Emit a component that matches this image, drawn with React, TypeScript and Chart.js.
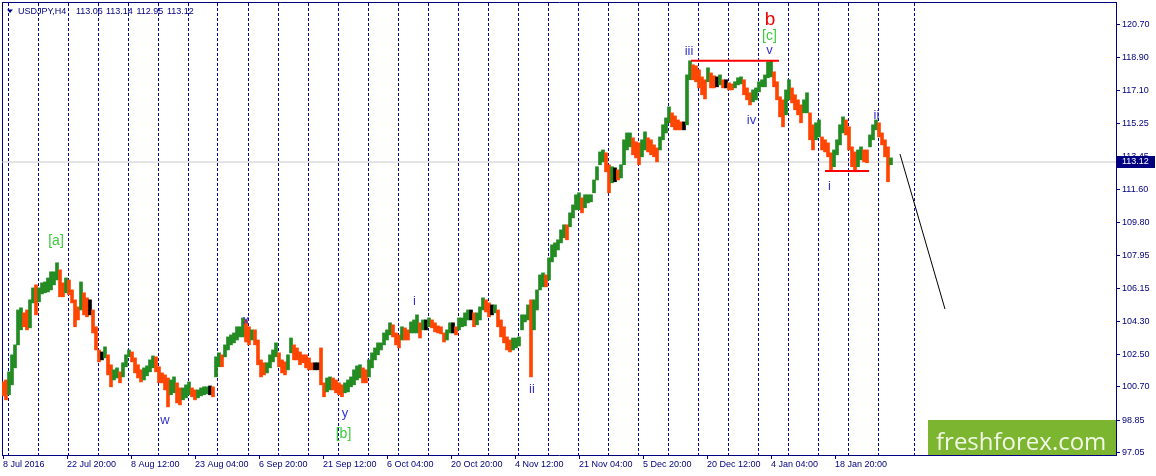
import React, { useEffect, useRef } from "react";
import { Chart, registerables } from "chart.js";

Chart.register(...registerables);

// ---- price bars (each bar = ~3 H4 candles), high / low ----
const highs = [
  100.97, 101.07, 101.52, 102.46, 103.01, 104.94, 105.06, 104.78, 104.94, 105.5,
  106.16, 106.33, 106.16, 106.44, 106.49, 106.71, 107.05, 107.05, 107.55, 107.16,
  106.44, 106.71, 106.6, 106.05, 105.5, 105.11, 106.49, 105.89, 105.61, 105.5,
  104.94, 104.01, 102.73, 102.62, 102.9, 102.46, 101.91, 101.63, 101.74, 101.52,
  102.02, 102.46, 102.73, 102.62, 102.29, 101.91, 101.63, 101.74, 101.85, 102.18,
  102.4, 102.35, 101.8, 101.46, 101.35, 101.18, 101.07, 101.24, 100.91, 100.63,
  100.63, 100.8, 100.96, 100.63, 100.52, 100.52, 100.63, 100.69, 100.69, 100.74,
  100.69, 102.35, 102.57, 102.46, 103.01, 103.45, 103.56, 103.67, 104.01, 104.01,
  104.5, 104.39, 104.01, 103.84, 103.84, 103.28, 102.18, 102.02, 102.02, 102.46,
  102.73, 103.12, 102.57, 102.18, 102.07, 102.46, 103.39, 103.01, 102.84, 102.62,
  102.46, 102.46, 102.29, 102.02, 102.02, 102.02, 102.84, 100.91, 101.18, 101.24,
  101.18, 101.07, 100.91, 100.8, 100.91, 101.07, 101.24, 101.63, 101.85, 101.91,
  101.74, 101.63, 102.18, 102.57, 102.84, 103.12, 103.12, 103.67, 103.84, 104.23,
  104.12, 103.67, 103.56, 104.01, 103.95, 103.84, 104.28, 104.39, 104.67, 104.23,
  104.39, 104.39, 104.5, 104.39, 104.23, 104.06, 104.01, 103.67, 103.84, 104.23,
  104.23, 104.01, 104.5, 104.5, 104.78, 104.94, 104.94, 104.78, 104.78, 105.11,
  105.61, 105.5, 105.33, 105.22, 105.22, 104.94, 104.39, 104.01, 103.45, 103.28,
  103.39, 103.39, 103.45, 104.67, 104.67, 105.22, 105.5, 105.5, 106.05, 106.88,
  106.99, 106.88, 107.82, 108.54, 108.65, 108.82, 109.37, 109.65, 109.65, 110.31,
  110.75, 111.31, 111.42, 111.14, 111.31, 111.31, 111.31, 112.13, 112.86, 113.68,
  113.79, 113.63, 112.97, 112.86, 112.8, 112.69, 112.97, 114.35, 114.73, 114.73,
  114.46, 114.24, 114.18, 114.35, 114.79, 114.46, 114.35, 114.07, 113.9, 114.51,
  115.18, 115.56, 116.17, 115.84, 115.67, 115.45, 115.34, 115.34, 117.94, 118.72,
  118.5, 118.44, 118.22, 117.83, 117.67, 118.33, 118.05, 117.89, 117.83, 117.94,
  117.67, 117.67, 117.5, 117.44, 117.56, 117.78, 117.83, 117.67, 117.22, 116.95,
  117.11, 117.22, 117.56, 117.67, 117.94, 118.66, 118.72, 118.11, 117.56, 116.73,
  116.56, 117.11, 117.67, 117.22, 116.84, 116.56, 116.28, 116.56, 116.95, 115.84,
  115.18, 115.29, 115.45, 114.51, 114.35, 114.18, 113.63, 113.79, 114.35, 115.18,
  115.62, 115.45, 115.07, 113.96, 113.68, 113.79, 113.96, 113.79, 113.79, 114.62,
  115.18, 115.45, 115.29, 114.73, 114.35, 113.96, 113.35,
];
const lows = [
  100.19, 99.97, 100.25, 100.8, 101.74, 103.01, 103.84, 104.01, 103.84, 103.95,
  105.33, 104.67, 105.39, 105.83, 105.89, 105.94, 106.05, 106.33, 106.6, 105.67,
  105.67, 105.89, 105.78, 105.33, 104.01, 104.39, 104.94, 104.67, 104.56, 104.67,
  103.67, 102.73, 102.07, 102.18, 102.29, 101.35, 100.69, 101.07, 101.18, 100.91,
  101.24, 101.8, 102.35, 102.07, 101.46, 101.18, 100.96, 101.07, 101.3, 101.52,
  101.74, 101.52, 100.91, 100.91, 100.52, 99.58, 100.25, 100.36, 99.8, 99.69,
  99.97, 100.08, 100.25, 100.14, 99.97, 100.08, 100.19, 100.25, 100.3, 100.25,
  100.14, 101.24, 101.8, 101.8, 102.35, 102.73, 103.01, 103.12, 103.28, 103.45,
  103.45, 103.17, 103.01, 103.28, 103.01, 101.91, 101.24, 101.35, 101.46, 101.74,
  102.07, 102.35, 101.8, 101.46, 101.35, 101.63, 102.57, 102.18, 102.18, 101.91,
  102.02, 101.74, 101.63, 101.63, 101.63, 101.63, 100.8, 100.14, 100.41, 100.52,
  100.52, 100.36, 100.25, 100.14, 100.36, 100.41, 100.69, 100.8, 101.07, 101.18,
  100.91, 100.91, 101.24, 101.74, 102.18, 102.46, 102.73, 103.01, 103.28, 103.56,
  103.45, 103.01, 102.84, 103.28, 103.28, 103.28, 103.67, 103.67, 103.67, 103.39,
  103.84, 103.84, 104.01, 103.95, 103.73, 103.67, 103.62, 103.17, 103.28, 103.67,
  103.67, 103.56, 103.84, 104.01, 104.06, 104.39, 104.39, 104.01, 104.12, 104.39,
  104.94, 104.83, 104.56, 104.67, 104.78, 104.01, 103.45, 103.12, 102.73, 102.62,
  102.73, 102.84, 102.95, 103.84, 104.28, 104.39, 101.24, 103.84, 104.94, 106.05,
  106.22, 106.22, 106.6, 107.6, 107.88, 108.26, 108.65, 108.93, 108.82, 109.54,
  110.03, 110.48, 110.48, 110.31, 110.59, 110.86, 110.92, 111.42, 112.13, 112.97,
  113.13, 112.58, 111.42, 111.97, 112.03, 112.13, 112.24, 112.97, 113.79, 113.96,
  113.52, 113.35, 112.97, 113.41, 113.79, 113.68, 113.52, 113.41, 113.13, 113.79,
  114.35, 114.73, 115.29, 115.07, 114.9, 114.9, 114.9, 114.9, 115.18, 117.67,
  117.67, 117.56, 117.22, 116.84, 116.61, 117.56, 117.22, 117.22, 117.28, 117.39,
  117.22, 117.22, 117.11, 117.11, 117.22, 117.39, 117.44, 116.84, 116.56, 116.28,
  116.45, 116.56, 117.0, 117.28, 117.28, 117.78, 117.83, 117.28, 116.56, 115.62,
  115.07, 115.73, 116.56, 116.39, 116.01, 115.73, 115.29, 115.84, 115.84, 114.35,
  113.79, 114.35, 114.51, 113.79, 113.68, 113.41, 112.69, 112.86, 113.52, 114.07,
  114.73, 114.62, 113.79, 112.86, 112.58, 112.86, 113.24, 113.13, 113.08, 113.96,
  114.35, 114.9, 114.51, 114.07, 113.41, 112.03, 112.97,
];
const barIndexStep = 3; // H4 candles per drawn bar

// ---- axes ----
const priceTicks = [97.05, 98.85, 100.7, 102.5, 104.3, 106.15, 107.95, 109.8, 111.6, 113.45, 115.25, 117.1, 118.9, 120.7];
const timeLabels = [
  "8 Jul 2016", "22 Jul 20:00", "8 Aug 12:00", "23 Aug 04:00", "6 Sep 20:00", "21 Sep 12:00", "6 Oct 04:00",
  "20 Oct 20:00", "4 Nov 12:00", "21 Nov 04:00", "5 Dec 20:00", "20 Dec 12:00", "4 Jan 04:00", "18 Jan 20:00",
];
const timeLabelIndex = [0, 64, 128, 192, 256, 320, 384, 448, 512, 576, 640, 704, 768, 832];
const weekSeparatorIndex = [
  5, 35, 65, 95, 125, 155, 185, 215, 245, 275, 305, 335, 365, 395, 425, 455,
  485, 515, 545, 575, 605, 635, 665, 695, 725, 755, 785, 815, 845, 875, 911,
];

// ---- header / current price ----
const symbolTitle = "USDJPY,H4";
const titleOHLC = ["113.06", "113.14", "112.95", "113.12"];
const lastPrice = 113.12;

// ---- drawn levels ----
const resistanceIdx = [688, 776];
const resistancePrice = [118.72, 118.72];
const supportIdx = [822, 866];
const supportPrice = [112.63, 112.63];
const forecastIdx = [897, 942];
const forecastPrice = [113.56, 104.99];

// ---- wave labels ----
const waveLabels = ["[a]", "w", "x", "y", "[b]", "i", "ii", "iii", "b", "[c]", "v", "iv", "i", "ii"];
const waveIdx = [53, 162, 243, 342, 340.5, 411.5, 529, 686, 767, 766.5, 766.5, 748.5, 826.5, 873.5];
const wavePrice = [108.53, 98.63, 104.16, 99.02, 97.86, 105.21, 100.35, 119.04, 120.7, 119.87, 119.1, 115.22, 111.57, 115.5];
const waveKind = ["green", "blue", "blue", "blue", "green", "blue", "blue", "blue", "red", "green", "blue", "blue", "blue", "blue"];

const NAVY = "#000080";
const FONT = "'Liberation Sans', Arial, sans-serif";
const X_MIN = -1;
const X_MAX = 1113;

const zeroPad = (s: any) => {
  s.paddingLeft = 0;
  s.paddingRight = 0;
  s.paddingTop = 0;
  s.paddingBottom = 0;
};

const overlayPlugin = {
  id: "mt4overlay",
  afterDatasetsDraw(chart: any) {
    const { ctx, scales } = chart;
    const x = scales.x;
    const y = scales.y;
    ctx.save();
    ctx.textAlign = "center";
    ctx.textBaseline = "alphabetic";
    waveLabels.forEach((t, i) => {
      const kind = waveKind[i];
      if (kind === "red") {
        ctx.font = `19px ${FONT}`;
        ctx.fillStyle = "#F00000";
      } else if (kind === "green") {
        ctx.font = `14px ${FONT}`;
        ctx.fillStyle = "#3CCB3C";
      } else {
        ctx.font = `13px ${FONT}`;
        ctx.fillStyle = "#3434CC";
      }
      ctx.fillText(t, x.getPixelForValue(waveIdx[i]), y.getPixelForValue(wavePrice[i]));
    });
    ctx.restore();
  },
  afterDraw(chart: any) {
    const { ctx, scales, chartArea } = chart;
    const y = scales.y;
    ctx.save();
    // header
    ctx.fillStyle = NAVY;
    ctx.beginPath();
    ctx.moveTo(7, 9.5);
    ctx.lineTo(13, 9.5);
    ctx.lineTo(10, 13);
    ctx.closePath();
    ctx.fill();
    ctx.font = `9px ${FONT}`;
    ctx.textAlign = "left";
    ctx.textBaseline = "alphabetic";
    ctx.fillText(symbolTitle, 18, 14);
    const hx = [76, 106, 136.5, 167];
    titleOHLC.forEach((t, i) => ctx.fillText(t, hx[i], 14));
    // current price box
    const py = y.getPixelForValue(lastPrice);
    ctx.fillStyle = NAVY;
    ctx.fillRect(chartArea.right + 1, Math.round(py) - 6, 38, 12);
    ctx.fillStyle = "#FFFFFF";
    ctx.textBaseline = "middle";
    ctx.fillText(lastPrice.toFixed(2), chartArea.right + 6, Math.round(py));
    // watermark
    ctx.fillStyle = "#7CB530";
    ctx.fillRect(928, 420, 188, 35);
    ctx.fillStyle = "#F1F8E6";
    ctx.font = "24px 'Open Sans', sans-serif";
    ctx.textBaseline = "alphabetic";
    ctx.fillText("freshforex.com", 936, 450);
    ctx.restore();
  },
};

export default function App() {
  const ref = useRef<HTMLCanvasElement>(null);

  useEffect(() => {
    const mids = highs.map((h, k) => (h + lows[k]) / 2);
    const colors = mids.map((m, k) => {
      if (k === 0) return "#FF4500";
      const d = m - mids[k - 1];
      if (Math.abs(d) < 0.004) return "#000000";
      return d > 0 ? "#228B22" : "#FF4500";
    });

    const chart = new Chart(ref.current as HTMLCanvasElement, {
      type: "bar",
      data: {
        datasets: [
          {
            type: "line",
            data: [
              { x: X_MIN, y: lastPrice },
              { x: X_MAX, y: lastPrice },
            ],
            borderColor: "#C8C8C8",
            borderWidth: 1,
            pointRadius: 0,
            order: 10,
            xAxisID: "x",
            yAxisID: "y",
          } as any,
          {
            type: "bar",
            data: highs.map((h, k) => ({ x: k * barIndexStep, y: [lows[k], h] })),
            backgroundColor: colors,
            borderWidth: 0,
            barThickness: 3,
            grouped: false,
            order: 5,
            xAxisID: "x",
            yAxisID: "y",
          } as any,
          {
            type: "line",
            data: resistanceIdx.map((v, i) => ({ x: v, y: resistancePrice[i] })),
            borderColor: "#FF0000",
            borderWidth: 2,
            pointRadius: 0,
            order: 1,
            xAxisID: "x",
            yAxisID: "y",
          } as any,
          {
            type: "line",
            data: supportIdx.map((v, i) => ({ x: v, y: supportPrice[i] })),
            borderColor: "#FF0000",
            borderWidth: 2,
            pointRadius: 0,
            order: 1,
            xAxisID: "x",
            yAxisID: "y",
          } as any,
          {
            type: "line",
            data: forecastIdx.map((v, i) => ({ x: v, y: forecastPrice[i] })),
            borderColor: "#000000",
            borderWidth: 1,
            pointRadius: 0,
            order: 1,
            xAxisID: "x",
            yAxisID: "y",
          } as any,
        ],
      },
      options: {
        animation: false,
        responsive: false,
        maintainAspectRatio: false,
        events: [],
        layout: { padding: 0 },
        plugins: { legend: { display: false }, tooltip: { enabled: false } },
        scales: {
          x: {
            type: "linear",
            position: "bottom",
            min: X_MIN,
            max: X_MAX,
            offset: false,
            afterBuildTicks: (s: any) => {
              s.ticks = timeLabelIndex.map((v) => ({ value: v }));
            },
            afterFit: (s: any) => {
              s.height = 21;
              zeroPad(s);
            },
            grid: { display: true, drawOnChartArea: false, drawTicks: true, tickLength: 4, tickColor: NAVY, offset: false },
            border: { display: true, color: NAVY, width: 1 },
            ticks: {
              autoSkip: false,
              maxRotation: 0,
              minRotation: 0,
              align: "start",
              padding: 0,
              color: NAVY,
              font: { size: 9, family: FONT },
              callback: (v: any) => {
                const i = timeLabelIndex.indexOf(Number(v));
                return i >= 0 ? timeLabels[i] : "";
              },
            },
          },
          xTop: {
            type: "linear",
            position: "top",
            min: X_MIN,
            max: X_MAX,
            offset: false,
            afterBuildTicks: (s: any) => {
              s.ticks = weekSeparatorIndex.map((v) => ({ value: v }));
            },
            afterFit: (s: any) => {
              s.height = 2;
              zeroPad(s);
            },
            grid: { display: true, drawOnChartArea: true, drawTicks: false, color: "#0000A8", lineWidth: 1, offset: false },
            border: { display: true, color: NAVY, width: 1, dash: [3, 2] },
            ticks: { display: false },
          },
          y: {
            type: "linear",
            position: "right",
            min: 96.92,
            max: 121.97,
            afterBuildTicks: (s: any) => {
              s.ticks = priceTicks.map((v) => ({ value: v }));
            },
            afterFit: (s: any) => {
              s.width = 40;
              zeroPad(s);
            },
            grid: { display: true, drawOnChartArea: false, drawTicks: true, tickLength: 4, tickColor: NAVY },
            border: { display: true, color: NAVY, width: 1 },
            ticks: {
              autoSkip: false,
              padding: 2,
              color: NAVY,
              font: { size: 9, family: FONT },
              callback: (v: any) => Number(v).toFixed(2),
            },
          },
          yLeft: {
            type: "linear",
            position: "left",
            min: 0,
            max: 1,
            afterFit: (s: any) => {
              s.width = 2;
              zeroPad(s);
            },
            grid: { display: true, drawOnChartArea: false, drawTicks: false },
            border: { display: true, color: NAVY, width: 1 },
            ticks: { display: false },
          },
        },
      } as any,
      plugins: [overlayPlugin],
    });
    return () => chart.destroy();
  }, []);

  return (
    <div style={{ position: "absolute", left: 0, top: 0, width: 1156, height: 476, background: "#FFFFFF" }}>
      <canvas ref={ref} width={1156} height={476} style={{ display: "block", width: 1156, height: 476 }} />
    </div>
  );
}
